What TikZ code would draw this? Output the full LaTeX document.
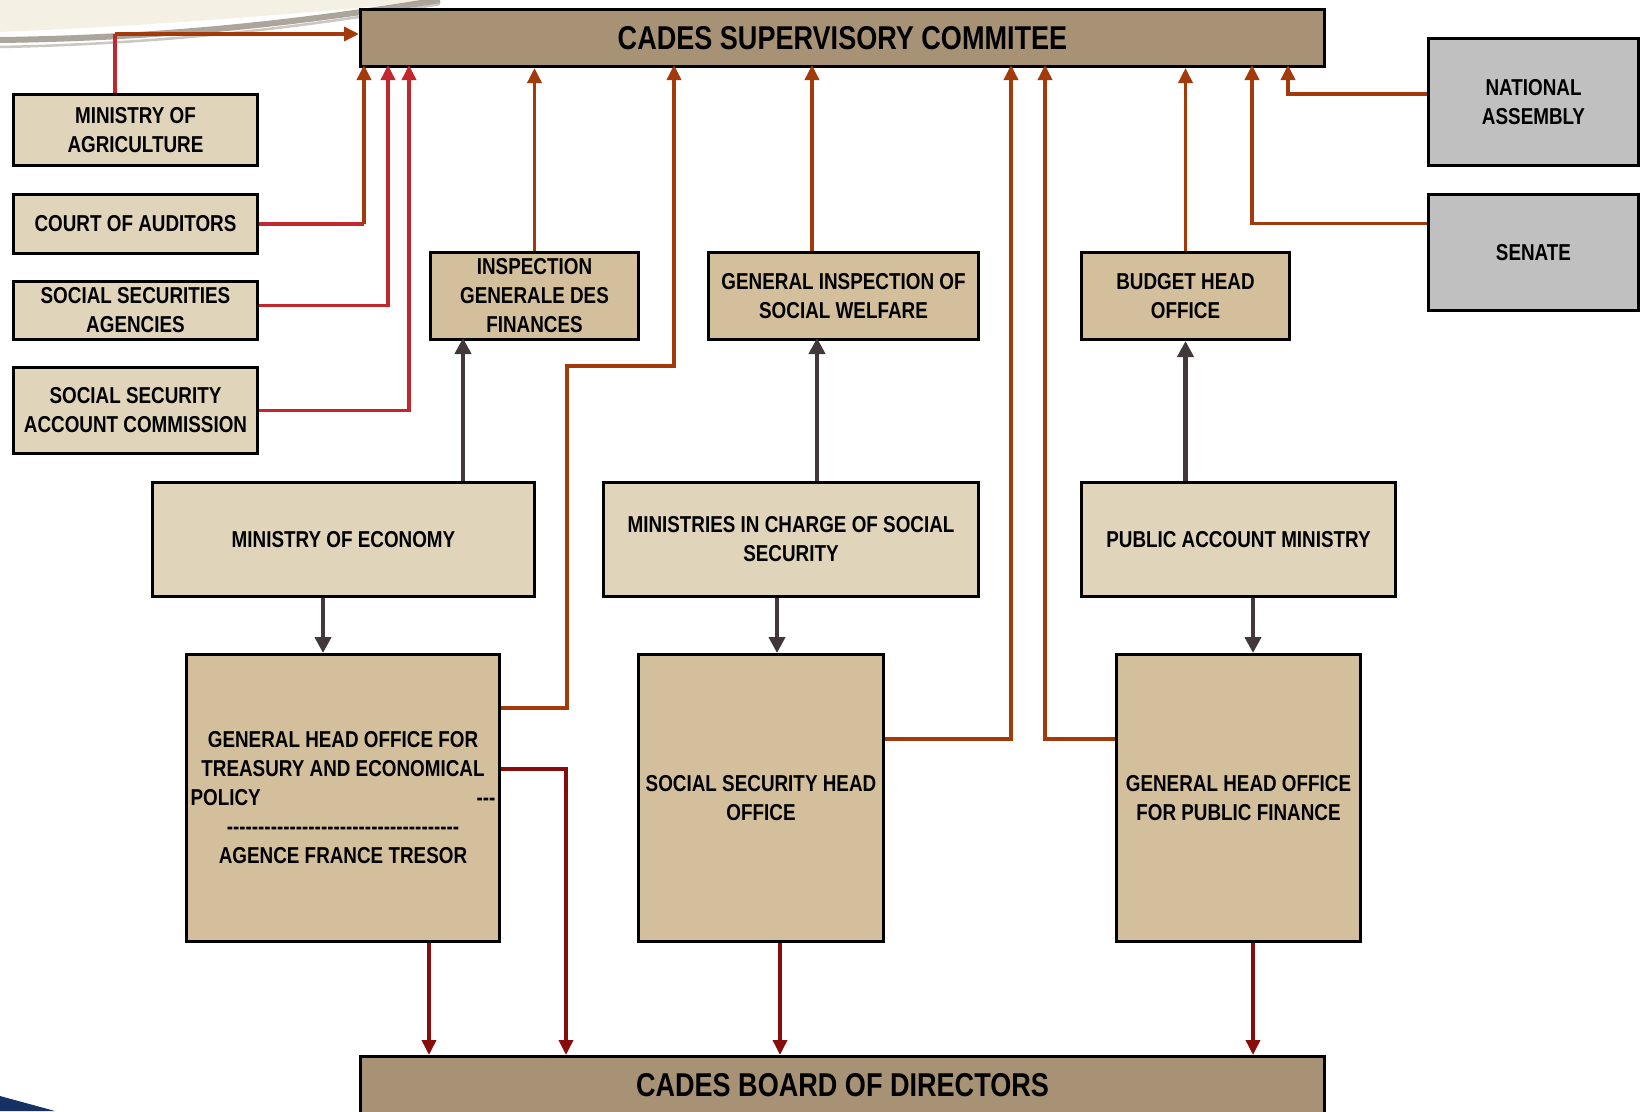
\documentclass[tikz,border=0pt]{standalone}
\usepackage{fontspec}
\setmainfont{Liberation Sans}[FakeStretch=0.82]
\usetikzlibrary{arrows.meta,positioning,calc}
\definecolor{headtan}{RGB}{168,146,118}
\definecolor{lighttan}{RGB}{224,212,186}
\definecolor{midtan}{RGB}{212,191,156}
\definecolor{boxgrey}{RGB}{192,192,192}
\definecolor{rust}{RGB}{163,58,12}
\definecolor{brick}{RGB}{193,39,45}
\definecolor{darkred}{RGB}{135,12,12}
\definecolor{slate}{RGB}{66,56,58}
\definecolor{cream}{RGB}{244,241,228}
\definecolor{swoosh}{RGB}{150,142,130}
\definecolor{navy}{RGB}{22,50,100}
\newcommand\dashrun[1]{\foreach \i in {1,...,#1}{-\kern0pt}}

\begin{document}
\begin{tikzpicture}[x=1pt, y=-1pt,
    every node/.style={font=\bfseries\fontsize{23}{29}\selectfont, align=center, inner sep=2pt},
    box/.style={rectangle, draw=black, line width=3pt, anchor=north west},
    hbox/.style={box, fill=headtan, font=\bfseries\fontsize{33}{38}\selectfont},
    lbox/.style={box, fill=lighttan},
    mbox/.style={box, fill=midtan},
    gybox/.style={box, fill=boxgrey},
    ahead/.style={-{Triangle[length=15pt,width=14pt]}},
    oline/.style={draw=rust, line width=3.5pt},
    rline/.style={draw=brick, line width=3.5pt},
    oflow/.style={oline, ahead},
    rflow/.style={rline, ahead},
    dflow/.style={draw=darkred, line width=3.5pt, ahead},
    gflow/.style={draw=slate, line width=4.5pt, -{Triangle[length=16pt,width=16pt]}}
]
\useasboundingbox (0,0) rectangle (1643,1111);
% slide background
\fill[cream] (0,0) -- (440,0) .. controls (300,14) and (150,26) .. (0,32) -- cycle;
\draw[swoosh, line width=6pt, opacity=.8] (0,40) .. controls (150,38) and (280,26) .. (440,0);
\draw[swoosh, line width=2.5pt, opacity=.5] (0,47) .. controls (150,44) and (290,30) .. (440,4);
\fill[navy] (0,1096) -- (55,1111) -- (0,1111) -- cycle;

% boxes
\node[hbox, minimum width=964pt, minimum height=57pt] (sup) at (359,8) {CADES SUPERVISORY COMMITEE};
\node[hbox, minimum width=964pt, minimum height=58pt] (board) at (359,1055) {CADES BOARD OF DIRECTORS};
\node[lbox, minimum width=244pt, minimum height=71pt] (agr) at (12,93) {MINISTRY OF\\AGRICULTURE};
\node[lbox, minimum width=244pt, minimum height=59pt] (aud) at (12,193) {COURT OF AUDITORS};
\node[lbox, minimum width=244pt, minimum height=58pt] (ssa) at (12,280) {SOCIAL SECURITIES\\AGENCIES};
\node[lbox, minimum width=244pt, minimum height=86pt] (ssac) at (12,366) {SOCIAL SECURITY\\ACCOUNT COMMISSION};
\node[mbox, minimum width=208pt, minimum height=87pt] (igf) at (429,251) {INSPECTION\\GENERALE DES\\FINANCES};
\node[mbox, minimum width=270pt, minimum height=87pt] (gisw) at (707,251) {GENERAL INSPECTION OF\\SOCIAL WELFARE};
\node[mbox, minimum width=208pt, minimum height=87pt] (bho) at (1080,251) {BUDGET HEAD\\OFFICE};
\node[gybox, minimum width=210pt, minimum height=127pt] (na) at (1427,37) {NATIONAL\\ASSEMBLY};
\node[gybox, minimum width=210pt, minimum height=116pt] (sen) at (1427,193) {SENATE};
\node[lbox, minimum width=382pt, minimum height=114pt] (eco) at (151,481) {MINISTRY OF ECONOMY};
\node[lbox, minimum width=375pt, minimum height=114pt] (msoc) at (602,481) {MINISTRIES IN CHARGE OF SOCIAL\\SECURITY};
\node[lbox, minimum width=314pt, minimum height=114pt] (pam) at (1080,481) {PUBLIC ACCOUNT MINISTRY};
\node[mbox, minimum width=313pt, minimum height=287pt, inner xsep=4pt] (tre) at (185,653)
  {GENERAL HEAD OFFICE FOR\\TREASURY AND ECONOMICAL\\\makebox[305pt]{POLICY\hfill\dashrun{3}}\\\dashrun{37}\\AGENCE FRANCE TRESOR};
\node[mbox, minimum width=245pt, minimum height=287pt] (ssho) at (637,653) {SOCIAL SECURITY HEAD\\OFFICE};
\node[mbox, minimum width=244pt, minimum height=287pt] (ghpf) at (1115,653) {GENERAL HEAD OFFICE\\FOR PUBLIC FINANCE};

% ports
\foreach \n/\x in {p1/364,p2/388,p3/409,p5/674,p6/812,p7/1011,p8/1045,p10/1252,p11/1288}
  \coordinate (\n) at (\x,65);
\foreach \n/\x in {q1/429,q2/566,q3/780,q4/1253}
  \coordinate (\n) at (\x,1055);
\coordinate (g1) at (463,338); \coordinate (g2) at (817,338);
\coordinate (g4) at (323,653); \coordinate (g5) at (777,653); \coordinate (g6) at (1253,653);
\coordinate (k1) at (115,34);
\coordinate (b1) at (567,366);

% into the committee
\draw[rline] (agr.north -| k1) -- (k1);
\draw[oflow] (k1) -- (k1 -| sup.west);
\draw[rline] (aud.east) -- (aud.east -| p1);
\draw[oflow] (aud.east -| p1) -- (p1);
\draw[rflow] ([yshift=5pt]ssa.east) -| (p2);
\draw[rflow] (ssac.east) -| (p3);
\draw[oflow] (igf.north) -- (igf.north |- sup.south);
\draw[oflow] ([yshift=-55pt]tre.north east) -| (b1) -| (p5);
\draw[oflow] (p6 |- gisw.north) -- (p6);
\draw[oflow] ([yshift=-86pt]ssho.north east) -| (p7);
\draw[oflow] ([yshift=-86pt]ghpf.north west) -| (p8);
\draw[oflow] (bho.north) -- (bho.north |- sup.south);
\draw[oflow] ([yshift=29pt]sen.west) -| (p10);
\draw[oflow] ([yshift=8pt]na.west) -| (p11);

% ministries
\draw[gflow] (g1 |- eco.north) -- (g1);
\draw[gflow] (g2 |- msoc.north) -- (g2);
\draw[gflow] (pam.north -| bho.south) -- (bho.south);
\draw[gflow] (g4 |- eco.south) -- (g4);
\draw[gflow] (g5 |- msoc.south) -- (g5);
\draw[gflow] (g6 |- pam.south) -- (g6);

% into the board
\draw[dflow] (q1 |- tre.south) -- (q1);
\draw[dflow] ([yshift=-116pt]tre.north east) -| (q2);
\draw[dflow] (q3 |- ssho.south) -- (q3);
\draw[dflow] (q4 |- ghpf.south) -- (q4);
\end{tikzpicture}
\end{document}
